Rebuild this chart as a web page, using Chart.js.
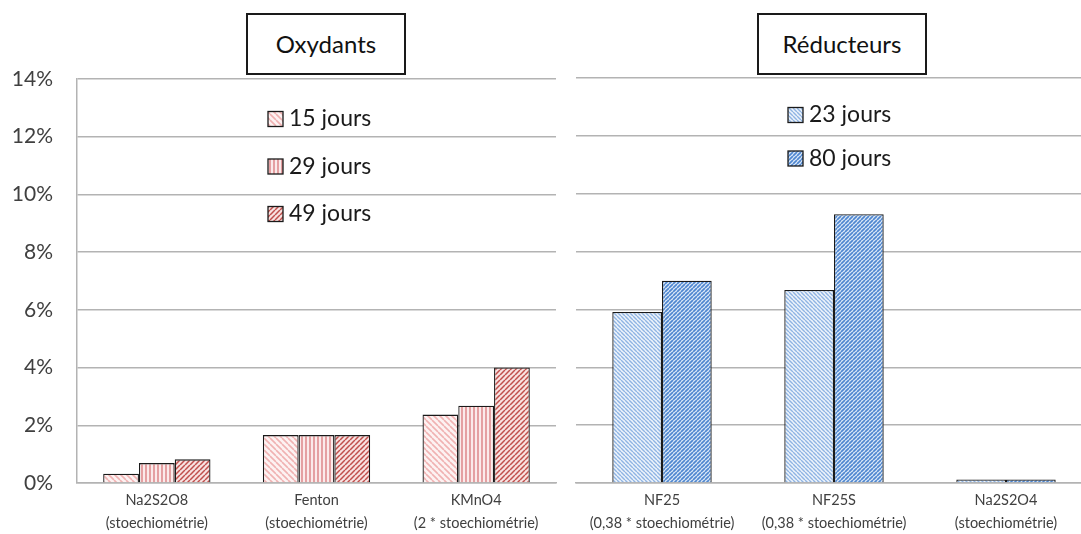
<!DOCTYPE html>
<html>
<head>
<meta charset="utf-8">
<script src="https://cdn.jsdelivr.net/npm/chart.js@4/dist/chart.umd.min.js"></script>
<style>
  html, body { margin: 0; padding: 0; background: #fff; overflow: hidden; }
  #wrap { position: relative; width: 1081px; height: 534px; overflow: hidden; font-family: Lato, sans-serif; }
  canvas { position: absolute; top: 0; }
  #left { left: 0; }
  #right { left: 565px; }
  .title {
    position: absolute; top: 13px; height: 58px; box-sizing: content-box;
    border: 2px solid #1a1a1a; background: #fff; color: #111;
    font-size: 24px; line-height: 58px; text-align: center;
  }
</style>
</head>
<body>
<div id="wrap">
  <canvas id="left" width="565" height="534"></canvas>
  <canvas id="right" width="527" height="534"></canvas>
  <div class="title" style="left:246px; width:156px;">Oxydants</div>
  <div class="title" style="left:757px; width:166px;">Réducteurs</div>
</div>
<script>
// values in percent
const oxCategories = [['Na2S2O8', '(stoechiométrie)'], ['Fenton', '(stoechiométrie)'], ['KMnO4', '(2 * stoechiométrie)']];
const oxSeries = ['15 jours', '29 jours', '49 jours'];
const ox15 = [0.32, 1.66, 2.37];
const ox29 = [0.69, 1.66, 2.68];
const ox49 = [0.82, 1.66, 4.0];

const redCategories = [['NF25', '(0,38 * stoechiométrie)'], ['NF25S', '(0,38 * stoechiométrie)'], ['Na2S2O4', '(stoechiométrie)']];
const redSeries = ['23 jours', '80 jours'];
const red23 = [5.91, 6.67, 0.12];
const red80 = [6.99, 9.29, 0.12];

const yTicks = [0, 2, 4, 6, 8, 10, 12, 14];

const FONT = 'Lato, sans-serif';
const GRID = '#b3b3b3';

// small tiled hatch fills
function hatch(kind, fg, bg, size, lw) {
  const c = document.createElement('canvas');
  c.width = c.height = size;
  const g = c.getContext('2d');
  g.fillStyle = bg;
  g.fillRect(0, 0, size, size);
  g.strokeStyle = fg;
  g.lineWidth = lw;
  g.beginPath();
  if (kind === 'vertical') {
    g.moveTo(size / 2, 0); g.lineTo(size / 2, size);
  } else {
    for (const k of [-size, 0, size]) {
      if (kind === 'down') { g.moveTo(k, 0); g.lineTo(k + size, size); }
      else { g.moveTo(k, size); g.lineTo(k + size, 0); }
    }
  }
  g.stroke();
  return g.createPattern(c, 'repeat');
}

// legend drawn inside the plot area
const insideLegend = {
  id: 'insideLegend',
  afterDatasetsDraw(chart, args, opts) {
    const ctx = chart.ctx;
    chart.data.datasets.forEach((ds, i) => {
      const y = opts.y + i * opts.gap;
      ctx.save();
      ctx.fillStyle = ds.backgroundColor;
      ctx.fillRect(opts.x, y - 7.5, 15, 15);
      ctx.strokeStyle = '#1a1a1a';
      ctx.lineWidth = 1.3;
      ctx.strokeRect(opts.x, y - 7.5, 15, 15);
      ctx.fillStyle = '#1a1a1a';
      ctx.font = '23px ' + FONT;
      ctx.textBaseline = 'middle';
      ctx.fillText(ds.label, opts.x + 21, y);
      ctx.restore();
    });
  }
};

function barSet(label, data, fill) {
  return {
    label, data,
    backgroundColor: fill,
    borderColor: '#1a1a1a',
    borderWidth: 1.3,
    barPercentage: 1
  };
}

function options(isLeft, catPct, legendPos) {
  return {
    responsive: false,
    animation: false,
    layout: { padding: isLeft ? { top: 79, left: 0, right: 9, bottom: 0 } : { top: 78, left: 11, right: 0, bottom: 0 } },
    datasets: { bar: { categoryPercentage: catPct } },
    plugins: {
      legend: { display: false },
      tooltip: { enabled: false },
      insideLegend: legendPos
    },
    scales: {
      x: {
        grid: { display: false, drawTicks: false },
        border: { display: true, color: GRID, width: 1.5 },
        ticks: { color: '#404040', font: { family: FONT, size: 14.5, lineHeight: 1.58 }, padding: 6, maxRotation: 0, autoSkip: false },
        afterFit: (axis) => { axis.height = 51; }
      },
      y: {
        min: 0, max: 14,
        afterBuildTicks: (axis) => { axis.ticks = yTicks.map(v => ({ value: v })); },
        grid: { color: GRID, lineWidth: 1.5, drawTicks: false },
        border: { display: isLeft, color: GRID, width: 1.5 },
        ticks: {
          display: isLeft,
          color: '#404040',
          padding: 24,
          font: { family: FONT, size: 21 },
          callback: (v) => v + '%'
        },
        afterFit: (axis) => { axis.width = isLeft ? 77 : 0; }
      }
    }
  };
}

new Chart(document.getElementById('left'), {
  type: 'bar',
  data: {
    labels: oxCategories,
    datasets: [
      barSet(oxSeries[0], ox15, hatch('down', '#f0b2b2', '#fdf2f2', 6, 1.6)),
      barSet(oxSeries[1], ox29, hatch('vertical', '#d8777a', '#fbeaea', 4, 1.3)),
      barSet(oxSeries[2], ox49, hatch('up', '#c0504d', '#f8e2e1', 5, 1.5))
    ]
  },
  options: options(true, 0.672, { x: 268, y: 119, gap: 47.5 }),
  plugins: [insideLegend]
});

new Chart(document.getElementById('right'), {
  type: 'bar',
  data: {
    labels: redCategories,
    datasets: [
      barSet(redSeries[0], red23, hatch('down', '#8fb4e3', '#eef4fb', 4, 1.4)),
      barSet(redSeries[1], red80, hatch('up', '#4f87d0', '#dde9f7', 4, 1.7))
    ]
  },
  options: options(false, 0.578, { x: 223, y: 115, gap: 43.5 }),
  plugins: [insideLegend]
});
</script>
</body>
</html>
